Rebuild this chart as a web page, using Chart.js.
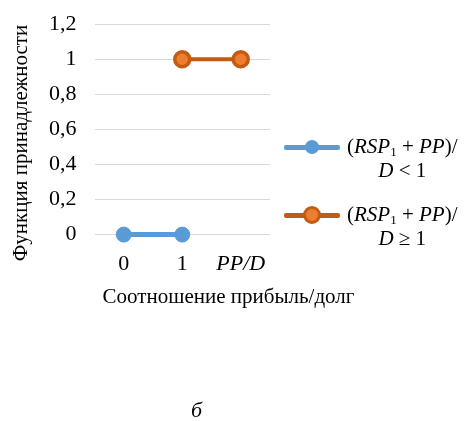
<!DOCTYPE html>
<html>
<head>
<meta charset="utf-8">
<script src="https://cdn.jsdelivr.net/npm/chart.js@4"></script>
<style>
  body { margin: 0; background: #fff; }
  #wrap { position: relative; width: 465px; height: 421px; overflow: hidden; font-family: "Liberation Serif", serif; color: #000; }
  #Canvas { position: absolute; left: 0; top: -7px; }
  .leg { position: absolute; left: 284px; width: 180px; font-size: 21px; }
  .leg .sample { position: absolute; left: 0; top: 11px; width: 56px; height: 5px; border-radius: 2px; }
  .leg .dot { position: absolute; left: 21px; top: 6px; width: 14px; height: 14px; border-radius: 50%; }
  .leg .txt { position: absolute; left: 63px; top: 0; text-align: center; line-height: 24px; white-space: nowrap; }
  .leg i { font-style: italic; }
  .leg sub { font-size: 13px; vertical-align: -3px; line-height: 0; }
  #xtitle { position: absolute; left: 0; width: 457px; text-align: center; top: 284px; font-size: 21px; }
  #ytitle { position: absolute; left: 20px; top: 143px; width: 300px; margin-left: -150px; margin-top: -12px;
            text-align: center; font-size: 21px; line-height: 24px; transform: rotate(-90deg); white-space: nowrap; }
  #fig { position: absolute; left: 191px; top: 397px; font-size: 22px; font-style: italic; }
</style>
</head>
<body>
<div id="wrap">
  <canvas id="Canvas" width="465" height="421"></canvas>
  <div id="ytitle">Функция принадлежности</div>
  <div class="leg" style="top:134px">
    <div class="sample" style="background:#5B9BD5"></div>
    <div class="dot" style="background:#5B9BD5"></div>
    <div class="txt">(<i>RSP</i><sub>1</sub> + <i>PP</i>)/<br><i>D</i> &lt; 1</div>
  </div>
  <div class="leg" style="top:202px">
    <div class="sample" style="background:#C55A11"></div>
    <div class="dot" style="background:#ED7D31;border:3px solid #C55A11;left:19px;top:4px;width:12px;height:12px"></div>
    <div class="txt">(<i>RSP</i><sub>1</sub> + <i>PP</i>)/<br><i>D</i> ≥ 1</div>
  </div>
  <div id="xtitle">Соотношение прибыль/долг</div>
  <div id="fig">б</div>
</div>
<script>
const categories = ["0", "1", "PP/D"];
const lessThanOne = [0, 0, null];
const atLeastOne = [null, 1, 1];
const yTickLabels = ["0", "0,2", "0,4", "0,6", "0,8", "1", "1,2"];

const ctx = document.getElementById("Canvas").getContext("2d");
const serif = "'Liberation Serif', 'Times New Roman', serif";

const myChart = new Chart(ctx, {
  type: "line",
  data: {
    labels: categories,
    datasets: [{
      label: "(RSP1 + PP)/D < 1",
      data: lessThanOne,
      borderColor: "#5B9BD5",
      backgroundColor: "#5B9BD5",
      pointBackgroundColor: "#5B9BD5",
      pointBorderColor: "#5B9BD5",
      borderWidth: 5,
      pointRadius: 7.5,
      pointBorderWidth: 1,
      clip: false
    }, {
      label: "(RSP1 + PP)/D ≥ 1",
      data: atLeastOne,
      borderColor: "#C55A11",
      backgroundColor: "#ED7D31",
      pointBackgroundColor: "#ED7D31",
      pointBorderColor: "#C55A11",
      borderWidth: 4,
      pointRadius: 7.5,
      pointBorderWidth: 3.5,
      clip: false
    }]
  },
  options: {
    responsive: false,
    animation: false,
    layout: { padding: { top: 3, right: 195, bottom: 129, left: 31 } },
    plugins: { legend: { display: false }, tooltip: { enabled: false } },
    scales: {
      x: {
        offset: true,
        grid: { display: false },
        border: { display: false },
        ticks: {
          color: "#000",
          padding: 8,
          autoSkip: false,
          maxRotation: 0,
          font: c => ({ family: serif, size: 22, style: c.index === 2 ? "italic" : "normal" })
        }
      },
      y: {
        min: 0,
        max: 1.2,
        grid: { color: "#D9D9D9", lineWidth: 1, drawTicks: false },
        border: { display: false },
        ticks: {
          stepSize: 0.2,
          autoSkip: false,
          color: "#000",
          padding: 18,
          font: { family: serif, size: 22 },
          callback: (v, i) => yTickLabels[i]
        }
      }
    }
  }
});
</script>
</body>
</html>
